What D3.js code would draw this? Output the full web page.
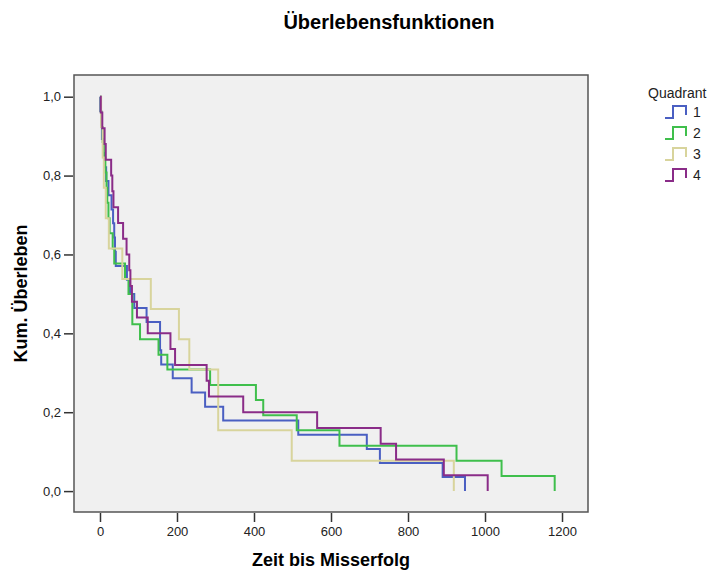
<!DOCTYPE html>
<html>
<head>
<meta charset="utf-8">
<script src="https://cdn.jsdelivr.net/npm/d3@7"></script>
<style>
  body { margin: 0; background: #fff; }
  svg { display: block; font-family: "Liberation Sans", Arial, sans-serif; }
  .tick text { font-size: 13px; fill: #222; }
  .tick line { stroke: #333; }
  .axis path { display: none; }
</style>
</head>
<body>
<div class="g-chart"></div>
<script>
//Data (Kaplan-Meier steps per quadrant)
var quadrants = ["1", "2", "3", "4"];
var colors = ["#4a5fc2", "#3fbf4c", "#d8d49c", "#8a2c88"];

var times1 = [1, 3, 5, 8, 12, 16, 22, 30, 34, 37, 39, 41, 70, 78, 89, 121, 156, 159, 189, 238, 273, 320, 515, 693, 727, 890, 948];
var surv1  = [0.964, 0.929, 0.893, 0.857, 0.821, 0.786, 0.750, 0.714, 0.679, 0.643, 0.607, 0.571, 0.536, 0.500, 0.464, 0.429, 0.357, 0.321, 0.286, 0.250, 0.214, 0.179, 0.143, 0.107, 0.071, 0.036, 0];

var times2 = [2, 4, 7, 10, 14, 17, 19, 22, 25, 33, 37, 65, 74, 84, 104, 152, 175, 286, 405, 424, 511, 622, 926, 1043, 1181];
var surv2  = [0.962, 0.923, 0.885, 0.846, 0.808, 0.769, 0.731, 0.692, 0.654, 0.615, 0.577, 0.538, 0.500, 0.423, 0.385, 0.346, 0.308, 0.269, 0.231, 0.192, 0.154, 0.115, 0.077, 0.038, 0];

var times3 = [3, 7, 10, 15, 23, 58, 132, 205, 232, 307, 498, 919];
var surv3  = [0.923, 0.846, 0.769, 0.692, 0.615, 0.538, 0.462, 0.385, 0.308, 0.154, 0.077, 0];

var times4 = [2, 6, 12, 15, 29, 32, 35, 47, 60, 69, 76, 79, 83, 96, 124, 183, 195, 277, 283, 372, 564, 729, 769, 893, 1007];
var surv4  = [0.96, 0.92, 0.88, 0.84, 0.80, 0.76, 0.72, 0.68, 0.64, 0.60, 0.56, 0.52, 0.48, 0.44, 0.40, 0.36, 0.32, 0.28, 0.24, 0.20, 0.16, 0.12, 0.08, 0.04, 0];

var xTicks = [0, 200, 400, 600, 800, 1000, 1200];
var yTicks = [0, 0.2, 0.4, 0.6, 0.8, 1.0];

var allTimes = [times1, times2, times3, times4];
var allSurv = [surv1, surv2, surv3, surv4];

//Margin conventions (plot frame)
var width = 717, height = 573;
var plot = {left: 74, right: 588, top: 75, bottom: 512};

var svg = d3.select(".g-chart").append("svg")
  .attr("width", width)
  .attr("height", height);

//Scales, padded like SPSS does
var xScale = d3.scaleLinear()
  .domain([-67.5, 1267.5])
  .range([plot.left, plot.right]);

var yScale = d3.scaleLinear()
  .domain([-0.053, 1.055])
  .range([plot.bottom, plot.top]);

//Plot background
svg.append("rect")
  .attr("x", plot.left)
  .attr("y", plot.top)
  .attr("width", plot.right - plot.left)
  .attr("height", plot.bottom - plot.top)
  .attr("fill", "#f0f0f0");

//Axes
var xAxis = d3.axisBottom(xScale)
  .tickValues(xTicks)
  .tickSize(9)
  .tickPadding(5)
  .tickFormat(d3.format("d"));

var yAxis = d3.axisLeft(yScale)
  .tickValues(yTicks)
  .tickSize(9)
  .tickPadding(3)
  .tickFormat(function(d) { return d3.format(".1f")(d).replace(".", ","); });

svg.append("g")
  .attr("class", "x axis")
  .attr("transform", "translate(0," + (plot.bottom + 1) + ")")
  .call(xAxis)
  .selectAll("line").attr("stroke-width", 1.5);

svg.append("g")
  .attr("class", "y axis")
  .attr("transform", "translate(" + (plot.left - 1) + ",0)")
  .call(yAxis)
  .selectAll("line").attr("stroke-width", 1.5);

//Step curves
var line = d3.line()
  .x(function(d) { return xScale(d[0]); })
  .y(function(d) { return yScale(d[1]); })
  .curve(d3.curveStepAfter);

quadrants.forEach(function(q, i) {
  var pts = [[0, 1]];
  allTimes[i].forEach(function(t, j) { pts.push([t, allSurv[i][j]]); });
  svg.append("path")
    .datum(pts)
    .attr("fill", "none")
    .attr("stroke", colors[i])
    .attr("stroke-width", 2)
    .attr("d", line);
});

//Plot frame
svg.append("rect")
  .attr("x", plot.left)
  .attr("y", plot.top)
  .attr("width", plot.right - plot.left)
  .attr("height", plot.bottom - plot.top)
  .attr("fill", "none")
  .attr("stroke", "#555")
  .attr("stroke-width", 1.5);

//Title
svg.append("text")
  .attr("x", 389)
  .attr("y", 29)
  .attr("text-anchor", "middle")
  .style("font-size", "20px")
  .style("font-weight", "bold")
  .text("Überlebensfunktionen");

//Axis titles
svg.append("text")
  .attr("x", (plot.left + plot.right) / 2)
  .attr("y", 566)
  .attr("text-anchor", "middle")
  .style("font-size", "18px")
  .style("font-weight", "bold")
  .text("Zeit bis Misserfolg");

svg.append("text")
  .attr("transform", "translate(27," + ((plot.top + plot.bottom) / 2) + ") rotate(-90)")
  .attr("text-anchor", "middle")
  .style("font-size", "18px")
  .style("font-weight", "bold")
  .text("Kum. Überleben");

//Legend
var legend = svg.append("g").attr("transform", "translate(648,0)");

legend.append("text")
  .attr("x", 0)
  .attr("y", 98)
  .style("font-size", "14px")
  .attr("fill", "#222")
  .text("Quadrant");

quadrants.forEach(function(q, i) {
  var cy = 112 + i * 21;
  legend.append("path")
    .attr("d", "M17," + (cy + 6) + "H25V" + (cy - 6) + "H38V" + (cy + 3))
    .attr("fill", "none")
    .attr("stroke", colors[i])
    .attr("stroke-width", 2);
  legend.append("text")
    .attr("x", 45)
    .attr("y", cy + 5)
    .style("font-size", "14px")
    .attr("fill", "#222")
    .text(q);
});
</script>
</body>
</html>
